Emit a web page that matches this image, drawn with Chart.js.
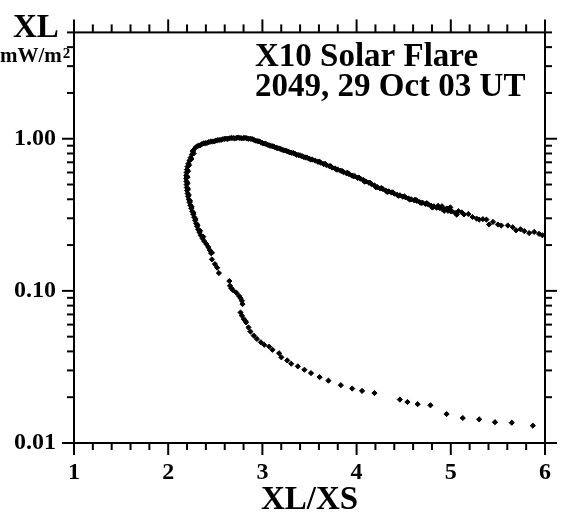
<!DOCTYPE html>
<html>
<head>
<meta charset="utf-8">
<script src="https://cdn.jsdelivr.net/npm/chart.js@4/dist/chart.umd.min.js"></script>
<style>
  html, body { margin: 0; padding: 0; background: #fff; }
  canvas { display: block; }
</style>
</head>
<body>
<canvas id="c" width="566" height="515"></canvas>
<script>
// Lower (decay-side) branch: sparse points trailing to small XL
const lowerX = [2.464, 2.464, 2.496, 2.520, 2.538, 2.649, 2.656, 2.670, 2.688, 2.722, 2.751, 2.768, 2.782, 2.789,
  2.768, 2.782, 2.803, 2.817, 2.827, 2.852, 2.873, 2.908, 2.942, 2.984, 3.020, 3.072, 3.107, 3.177, 3.201,
  3.264, 3.306, 3.376, 3.446, 3.516, 3.607, 3.701, 3.833, 3.953, 4.058, 4.190, 4.459, 4.540, 4.648, 4.784,
  4.955, 5.127, 5.301, 5.469, 5.647, 5.871];
const lowerY = [0.178, 0.161, 0.150, 0.142, 0.131, 0.116, 0.108, 0.104, 0.101, 0.0975, 0.0927, 0.0896, 0.0860, 0.0819,
  0.0721, 0.0687, 0.0653, 0.0637, 0.0621, 0.0575, 0.0540, 0.0508, 0.0483, 0.0459, 0.0442, 0.0430, 0.0410, 0.0389, 0.0366,
  0.0349, 0.0332, 0.0319, 0.0303, 0.0288, 0.0271, 0.0257, 0.0240, 0.0228, 0.0220, 0.0213, 0.0193, 0.0186, 0.0180, 0.0177,
  0.0155, 0.0146, 0.0143, 0.0137, 0.0136, 0.0130];

// Steep rising branch near XL/XS = 2.2
const leftX = [2.262, 2.251, 2.238, 2.226, 2.214, 2.205, 2.199, 2.195, 2.192, 2.191, 2.193, 2.195, 2.197, 2.201,
  2.206, 2.211, 2.218, 2.226, 2.235, 2.245, 2.256, 2.266, 2.276, 2.286, 2.296, 2.306, 2.318, 2.331, 2.346,
  2.362, 2.383, 2.405, 2.425, 2.442, 2.455,
  2.270, 2.246, 2.222, 2.211, 2.205, 2.206, 2.210, 2.218, 2.232, 2.249, 2.268, 2.290, 2.312, 2.338, 2.372];
const leftY = [0.822, 0.786, 0.751, 0.718, 0.686, 0.656, 0.627, 0.600, 0.573, 0.548, 0.524, 0.500, 0.478, 0.457,
  0.437, 0.418, 0.400, 0.382, 0.365, 0.349, 0.333, 0.319, 0.305, 0.291, 0.278, 0.266, 0.254, 0.243, 0.232,
  0.222, 0.212, 0.203, 0.194, 0.185, 0.177,
  0.800, 0.735, 0.670, 0.612, 0.560, 0.512, 0.468, 0.427, 0.390, 0.357, 0.325, 0.297, 0.271, 0.248, 0.227];

// Turnover around the flux maximum
const peakX = [2.263, 2.289, 2.321, 2.357, 2.394, 2.431, 2.468, 2.504, 2.541, 2.578, 2.614, 2.651, 2.688, 2.724,
  2.761, 2.798, 2.834, 2.871, 2.908, 2.944, 2.981, 3.018, 3.055, 3.091, 3.128, 3.165, 3.201, 3.238, 3.275,
  3.311, 3.348, 3.385, 3.421, 3.458, 3.495, 3.531,
  2.305, 2.340, 2.376, 2.412, 2.450, 2.486, 2.522, 2.560, 2.596, 2.633, 2.670, 2.706, 2.742, 2.780, 2.816,
  2.852, 2.890, 2.926, 2.962, 3.000, 3.036, 3.073, 3.110, 3.146, 3.183, 3.220, 3.256, 3.293, 3.330, 3.366,
  3.403, 3.440, 3.476, 3.513];
const peakY = [0.835, 0.873, 0.900, 0.921, 0.935, 0.949, 0.959, 0.970, 0.981, 0.992, 1.000, 1.006, 1.011, 1.012,
  1.012, 1.011, 1.008, 1.000, 0.985, 0.966, 0.949, 0.930, 0.914, 0.897, 0.883, 0.867, 0.851, 0.837, 0.822,
  0.808, 0.794, 0.780, 0.767, 0.754, 0.740, 0.729,
  0.890, 0.905, 0.932, 0.938, 0.958, 0.962, 0.978, 0.983, 0.999, 0.998, 1.012, 1.005, 1.017, 1.006, 1.013,
  1.000, 0.996, 0.972, 0.962, 0.936, 0.925, 0.903, 0.893, 0.872, 0.862, 0.842, 0.832, 0.813, 0.804, 0.784,
  0.776, 0.758, 0.750, 0.731];

// Long decay towards large XL/XS
const decayX = [3.56, 3.59, 3.62, 3.65, 3.68, 3.71, 3.74, 3.77, 3.80, 3.83, 3.86, 3.89, 3.92, 3.95, 3.98, 4.01,
  4.04, 4.07, 4.10, 4.13, 4.16, 4.19, 4.22, 4.25, 4.28, 4.31, 4.34, 4.37, 4.40, 4.43, 4.46, 4.49, 4.52, 4.55,
  4.58, 4.61, 4.64, 4.67, 4.70, 4.73, 4.76, 4.79, 4.82, 4.85, 4.88, 4.91, 4.94, 4.97, 5.00,
  3.605, 3.665, 3.725, 3.785, 3.845, 3.905, 3.965, 4.025, 4.085, 4.145, 4.205, 4.265, 4.325, 4.385, 4.445,
  4.505, 4.565, 4.625, 4.685, 4.745, 4.805, 4.865, 4.906, 4.930, 4.958, 4.994, 5.011, 5.046, 5.063, 5.081, 5.116,
  5.140, 5.186, 5.230, 5.274, 5.301, 5.340, 5.378, 5.406, 5.448, 5.500, 5.536, 5.605, 5.657, 5.693, 5.740,
  5.780, 5.832, 5.885, 5.937, 5.972];
const decayY = [0.718, 0.705, 0.695, 0.681, 0.671, 0.661, 0.646, 0.638, 0.627, 0.617, 0.604, 0.594, 0.585, 0.573,
  0.568, 0.553, 0.546, 0.536, 0.524, 0.515, 0.502, 0.493, 0.481, 0.471, 0.466, 0.456, 0.451, 0.443, 0.436,
  0.428, 0.425, 0.416, 0.412, 0.405, 0.400, 0.394, 0.390, 0.383, 0.380, 0.373, 0.370, 0.363, 0.360, 0.352,
  0.351, 0.344, 0.343, 0.336, 0.333,
  0.708, 0.684, 0.660, 0.628, 0.613, 0.597, 0.568, 0.556, 0.522, 0.512, 0.480, 0.474, 0.447, 0.444, 0.422,
  0.418, 0.398, 0.398, 0.378, 0.377, 0.353, 0.362, 0.360, 0.336, 0.348, 0.354, 0.334, 0.325, 0.317, 0.334, 0.328,
  0.318, 0.320, 0.306, 0.2985, 0.294, 0.296, 0.294, 0.273, 0.284, 0.273, 0.269, 0.269, 0.262, 0.250, 0.254,
  0.247, 0.240, 0.244, 0.237, 0.232];

// Axis ticks and labels
const xTickValues = [1, 2, 3, 4, 5, 6];
const xTickLabels = ['1', '2', '3', '4', '5', '6'];
const yTickValues = [0.01, 0.1, 1];
const yTickLabels = ['0.01', '0.10', '1.00'];
const xRange = [1, 6];
const yRange = [0.01, 5];

const titleLines = ['X10 Solar Flare', '2049, 29 Oct 03 UT'];

function pairs(xs, ys) { return xs.map((v, i) => ({ x: v, y: ys[i] })); }
const points = [].concat(pairs(lowerX, lowerY), pairs(leftX, leftY), pairs(peakX, peakY), pairs(decayX, decayY));

const SERIF = "'Liberation Serif', 'Times New Roman', serif";
Chart.defaults.font.family = SERIF;
Chart.defaults.color = '#000';

// Boxed frame with outward tick marks on all four sides, plus the free-standing labels
const framePlugin = {
  id: 'frame',
  afterDraw(chart) {
    const { ctx, chartArea: a, scales: { x, y } } = chart;
    ctx.save();
    ctx.strokeStyle = '#000';
    ctx.lineWidth = 2;
    ctx.lineCap = 'butt';
    ctx.strokeRect(a.left, a.top, a.right - a.left, a.bottom - a.top);
    const seg = (x1, y1, x2, y2) => { ctx.beginPath(); ctx.moveTo(x1, y1); ctx.lineTo(x2, y2); ctx.stroke(); };
    const MAJ = 12, MIN = 7;
    // x ticks: majors at integers, minors every 0.2
    for (let i = 0; i < xTickValues.length; i++) {
      const v = xTickValues[i];
      const px = x.getPixelForValue(v);
      seg(px, a.bottom, px, a.bottom + MAJ);
      seg(px, a.top, px, a.top - MAJ - 1);
      if (i < xTickValues.length - 1) {
        for (let k = 1; k < 5; k++) {
          const m = x.getPixelForValue(v + k * 0.2);
          seg(m, a.bottom, m, a.bottom + MIN);
          seg(m, a.top, m, a.top - MIN - 1);
        }
      }
    }
    // y ticks: decades as majors, 2..9 as minors
    yTickValues.forEach(d => {
      const py = y.getPixelForValue(d);
      seg(a.left, py, a.left - MAJ, py);
      seg(a.right, py, a.right + MAJ, py);
      for (let k = 2; k <= 9; k++) {
        const v = k * d;
        if (v > yRange[1] + 1e-9) break;
        const m = y.getPixelForValue(v);
        seg(a.left, m, a.left - MIN, m);
        seg(a.right, m, a.right + MIN, m);
      }
    });
    // y-axis quantity and unit
    ctx.fillStyle = '#000';
    ctx.textAlign = 'left';
    ctx.textBaseline = 'alphabetic';
    ctx.font = 'bold 33px ' + SERIF;
    ctx.fillText('XL', 13, 37);
    ctx.font = 'bold 21px ' + SERIF;
    ctx.fillText('mW/m', 0, 62);
    const w = ctx.measureText('mW/m').width;
    ctx.font = 'bold 15px ' + SERIF;
    ctx.fillText('2', w + 1, 58);
    // event label
    ctx.font = 'bold 33px ' + SERIF;
    ctx.fillText(titleLines[0], 255, 66);
    ctx.fillText(titleLines[1], 255, 96);
    ctx.restore();
  }
};

new Chart(document.getElementById('c'), {
  type: 'scatter',
  data: {
    datasets: [{
      data: points,
      pointStyle: 'rectRot',
      pointRadius: 2.6,
      pointBorderWidth: 1,
      backgroundColor: '#000',
      borderColor: '#000'
    }]
  },
  options: {
    responsive: false,
    animation: false,
    devicePixelRatio: 1,
    layout: { padding: { left: 0, top: 30, right: 15, bottom: 0 } },
    plugins: { legend: { display: false }, tooltip: { enabled: false } },
    scales: {
      x: {
        type: 'linear',
        position: 'bottom',
        min: xRange[0],
        max: xRange[1],
        grid: { display: false, drawTicks: false },
        border: { display: false },
        afterBuildTicks: s => { s.ticks = xTickValues.map(v => ({ value: v })); },
        afterFit: s => { s.height = 72; },
        ticks: {
          autoSkip: false,
          maxRotation: 0,
          padding: 15,
          font: { size: 24, weight: 'bold' },
          callback: (v, i) => xTickLabels[i]
        },
        title: {
          display: true,
          text: 'XL/XS',
          font: { size: 33, weight: 'bold', lineHeight: 0.8 },
          padding: { top: 0, bottom: 1 }
        }
      },
      y: {
        type: 'logarithmic',
        position: 'left',
        min: yRange[0],
        max: yRange[1],
        grid: { display: false, drawTicks: false },
        border: { display: false },
        afterBuildTicks: s => { s.ticks = yTickValues.map(v => ({ value: v })); },
        afterFit: s => { s.width = 74; },
        ticks: {
          autoSkip: false,
          padding: 18,
          font: { size: 24, weight: 'bold' },
          callback: (v, i) => yTickLabels[i]
        }
      }
    }
  },
  plugins: [framePlugin]
});
</script>
</body>
</html>
